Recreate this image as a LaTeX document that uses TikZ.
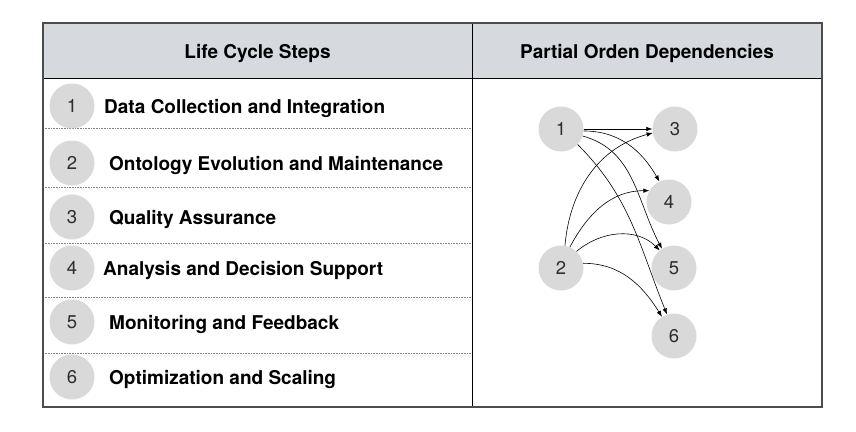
\documentclass[tikz,border=0pt]{standalone}
\usepackage{fontspec}
\setmainfont{TeX Gyre Heros}
\usepackage{tikz}
\usetikzlibrary{arrows.meta}
\definecolor{headgray}{RGB}{214,218,223}
\definecolor{circgray}{RGB}{217,217,217}
\definecolor{numgray}{RGB}{45,45,45}
\tikzset{
  stepnum/.style={circle, fill=circgray, minimum size=45pt, inner sep=0pt, text=numgray, font=\fontsize{18.5}{18}\selectfont},
  steplabel/.style={anchor=base west, inner sep=0pt, font=\bfseries\fontsize{19}{20}\selectfont},
  headlabel/.style={anchor=base, inner sep=0pt, font=\bfseries\fontsize{19}{20}\selectfont},
  rowline/.style={densely dotted, gray, line width=0.6pt},
  dep/.style={->, line width=0.6pt}
}

\begin{document}
\begin{tikzpicture}[x=1pt, y=-1pt, >={Latex[length=6pt,width=4.5pt]}]
    \useasboundingbox (0,0) rectangle (856,431);

    % Header band
    \fill[headgray] (43,23) rectangle (822,78);
    \node[headlabel] (hleft) at (257.5,58) {Life Cycle Steps};
    \node[headlabel] (hright) at (647,58) {Partial Orden Dependencies};

    % Row separators
    \draw[rowline] (43,128) -- (472,128);
    \draw[rowline] (43,187) -- (472,187);
    \draw[rowline] (43,243) -- (472,243);
    \draw[rowline] (43,297) -- (472,297);
    \draw[rowline] (43,353) -- (472,353);

    % Life cycle steps
    \node[stepnum] (s1) at (72,106) {1};
    \node[steplabel] (l1) at (104,113) {Data Collection and Integration};
    \node[stepnum] (s2) at (72,163) {2};
    \node[steplabel] (l2) at (109,170) {Ontology Evolution and Maintenance};
    \node[stepnum] (s3) at (72,217) {3};
    \node[steplabel] (l3) at (109,224) {Quality Assurance};
    \node[stepnum] (s4) at (72,268) {4};
    \node[steplabel] (l4) at (103,275) {Analysis and Decision Support};
    \node[stepnum] (s5) at (72,322) {5};
    \node[steplabel] (l5) at (109,329) {Monitoring and Feedback};
    \node[stepnum] (s6) at (72,377) {6};
    \node[steplabel] (l6) at (109,384) {Optimization and Scaling};

    % Dependency graph
    \node[stepnum] (g1) at (561,129) {1};
    \node[stepnum] (g2) at (561,268) {2};
    \node[stepnum] (g3) at (675,129) {3};
    \node[stepnum] (g4) at (669,202) {4};
    \node[stepnum] (g5) at (674,268) {5};
    \node[stepnum] (g6) at (674,336) {6};

    \draw[dep] (g1.0) -- (g3.180);
    \draw[dep] (g1.-5) to[out=0, in=120] (g4.115);
    \draw[dep] (g1.-18) to[out=-15, in=118] (g5.122);
    \draw[dep] (g1.-43) to[out=-45, in=112] (g6.108);
    \draw[dep] (g2.80) to[out=85, in=195] (g3.190);
    \draw[dep] (g2.67) to[out=62, in=180] (g4.150);
    \draw[dep] (g2.47) to[out=40, in=135] (g5.129);
    \draw[dep] (g2.12) to[out=0, in=122] (g6.122);

    % Table frame
    \draw[line width=0.9pt] (43,78) -- (822,78);
    \draw[line width=0.9pt] (472,23) -- (472,407);
    \draw[gray!60!black, line width=1.2pt] (43,23) rectangle (822,407);
\end{tikzpicture}
\end{document}
